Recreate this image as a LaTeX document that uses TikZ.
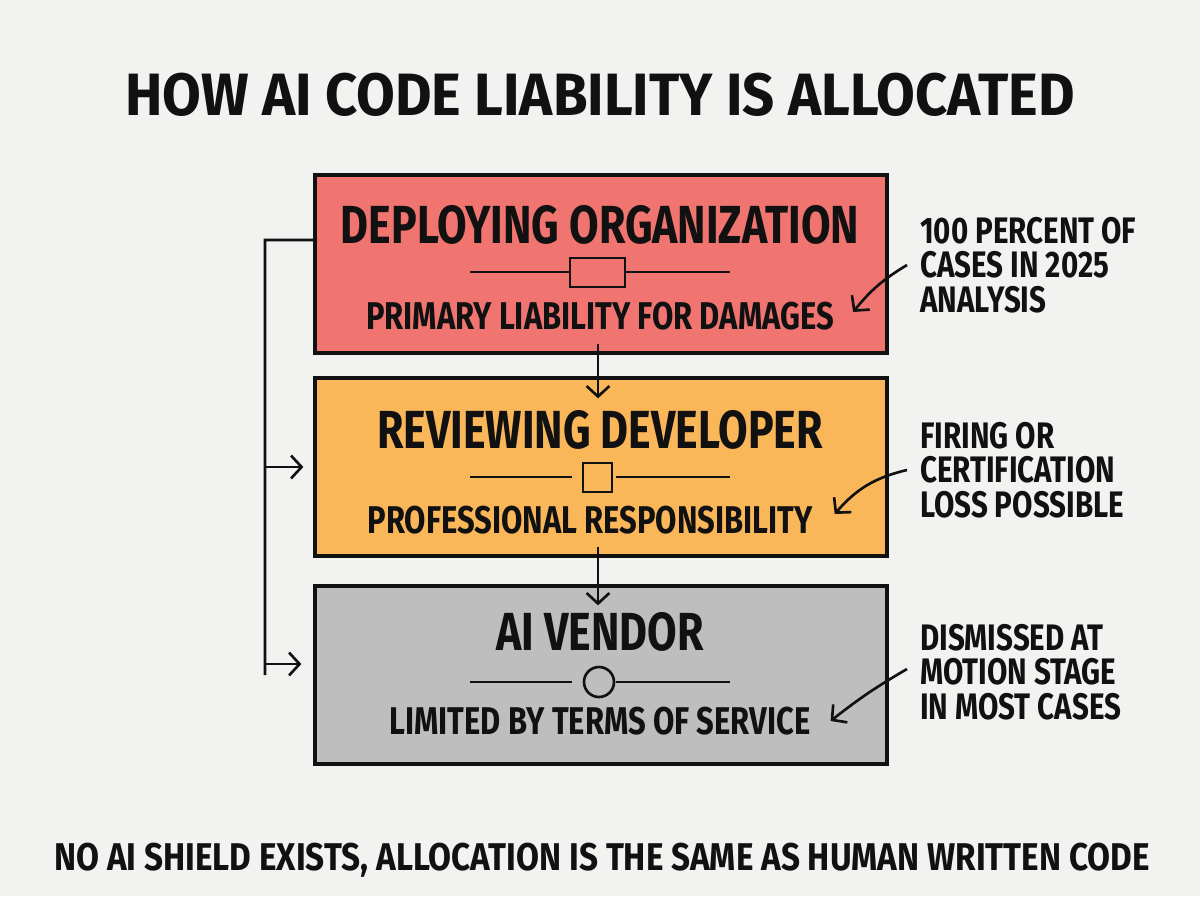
\documentclass[tikz,border=0pt]{standalone}
\usepackage{fontspec}
\setmainfont[FakeStretch=0.8]{Fira Sans}
\newfontfamily\widesans[FakeStretch=0.94]{Fira Sans}
\newfontfamily\footsans[FakeStretch=0.86]{Fira Sans}
\usetikzlibrary{arrows.meta,positioning}

\definecolor{paper}{HTML}{F2F2F1}
\definecolor{ink}{HTML}{111111}
\definecolor{orgred}{HTML}{F07470}
\definecolor{devorange}{HTML}{FAB75A}
\definecolor{vendgrey}{HTML}{BEBEBE}

\tikzset{
  tier/.style={draw=ink, line width=1.9pt, minimum width=11.44cm, minimum height=3.56cm, inner sep=0pt},
  head/.style={text=ink, font=\fontsize{30.5}{32}\selectfont\bfseries},
  sub/.style={text=ink, font=\fontsize{22}{24}\selectfont\bfseries},
  note/.style={text=ink, anchor=west, align=left, font=\fontsize{21}{19.5}\selectfont\bfseries},
  wire/.style={draw=ink, line width=1.5pt},
  tip/.style={-{Straight Barb[length=6pt,width=13pt,line width=1.5pt]}}
}

\begin{document}
\begin{tikzpicture}[x=0.02cm, y=-0.02cm]
  \fill[paper] (0,0) rectangle (1200,896);
  \useasboundingbox (0,0) rectangle (1200,896);

  \node[text=ink, font=\fontsize{34}{36}\selectfont\widesans\bfseries] (title) at (600,95) {HOW AI CODE LIABILITY IS ALLOCATED};

  % the three tiers
  \node[tier, fill=orgred] (org) at (601,264) {};
  \node[tier, fill=devorange] (dev) at (601,467) {};
  \node[tier, fill=vendgrey] (ven) at (601,675) {};

  \node[head] (orghead) at (600,225) {DEPLOYING ORGANIZATION};
  \node[sub] (orgsub) at (600,316) {PRIMARY LIABILITY FOR DAMAGES};
  \draw[wire] (470,272) -- (570,272) (625,272) -- (730,272);
  \draw[wire] (570,258) rectangle (625,287);

  \node[head] (devhead) at (600,430) {REVIEWING DEVELOPER};
  \node[sub] (devsub) at (590,520) {PROFESSIONAL RESPONSIBILITY};
  \draw[wire] (470,477) -- (572,477) (616,477) -- (730,477);
  \draw[wire] (583,463) rectangle (612,492);

  \node[head] (venhead) at (600,632) {AI VENDOR};
  \node[sub] (vensub) at (600,721) {LIMITED BY TERMS OF SERVICE};
  \draw[wire] (470,682) -- (572,682) (616,682) -- (730,682);
  \draw[wire] (599,682) circle[radius=0.3cm];

  % flow between tiers
  \draw[wire, tip] ([xshift=-0.06cm, yshift=0.22cm]org.south) -- ([xshift=-0.06cm, yshift=-0.44cm]dev.north);
  \draw[wire, tip] ([xshift=-0.06cm, yshift=0.22cm]dev.south) -- ([xshift=-0.06cm, yshift=-0.42cm]ven.north);

  % left bracket
  \coordinate (rail) at (265,240);
  \draw[wire] ([yshift=0.48cm]org.west) -- (rail) -- (rail |- ven.west);
  \draw[wire, tip, shorten >=0.2cm] (rail |- dev.west) -- (dev.west);
  \draw[wire, tip, shorten >=0.24cm] ([yshift=0.22cm]rail |- ven.west) -- ([yshift=0.22cm]ven.west);

  % side notes
  \node[note] (n1) at (914,265) {100 PERCENT OF\\CASES IN 2025\\ANALYSIS};
  \node[note] (n2) at (914,470) {FIRING OR\\CERTIFICATION\\LOSS POSSIBLE};
  \node[note] (n3) at (914,672) {DISMISSED AT\\MOTION STAGE\\IN MOST CASES};

  \draw[wire, tip] ([xshift=-0.14cm]n1.west) to[bend right=10] ([xshift=0.26cm, yshift=0.08cm]orgsub.east);
  \draw[wire, tip] ([xshift=-0.14cm]n2.west) to[bend right=18] ([xshift=0.32cm, yshift=0.12cm]devsub.east);
  \draw[wire, tip] ([xshift=-0.14cm, yshift=0.06cm]n3.west) to[bend right=4] ([xshift=0.28cm]vensub.east);

  \node[text=ink, font=\fontsize{22}{24}\selectfont\footsans\bfseries] (foot) at (602,860) {NO AI SHIELD EXISTS, ALLOCATION IS THE SAME AS HUMAN WRITTEN CODE};
\end{tikzpicture}
\end{document}
